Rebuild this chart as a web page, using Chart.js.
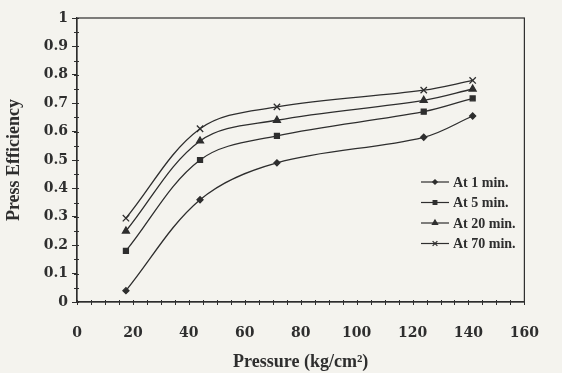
<!DOCTYPE html>
<html>
<head>
<meta charset="utf-8">
<script src="https://cdn.jsdelivr.net/npm/chart.js@4"></script>
<style>
  html, body { margin: 0; padding: 0; background: #f4f3ee; }
  #wrap { width: 562px; height: 373px; position: relative; }
</style>
</head>
<body>
<div id="wrap"><canvas id="pressChart"></canvas></div>
<script>
// pressure (kg/cm2) at each measurement
const pressure = [17.5, 44, 71.5, 124, 141.5];
// press efficiency per residence time
const eff1min = [0.04, 0.36, 0.49, 0.58, 0.655];
const eff5min = [0.18, 0.50, 0.585, 0.67, 0.717];
const eff20min = [0.25, 0.567, 0.64, 0.71, 0.75];
const eff70min = [0.295, 0.61, 0.687, 0.746, 0.78];
const seriesNames = ['At 1 min.', 'At 5 min.', 'At 20 min.', 'At 70 min.'];
const xTicks = [0, 20, 40, 60, 80, 100, 120, 140, 160];
const yTicks = [0, 0.1, 0.2, 0.3, 0.4, 0.5, 0.6, 0.7, 0.8, 0.9, 1];

const ink = '#2e2e2e';
const serif = '"Liberation Serif", "DejaVu Serif", serif';
const tickFont = '"DejaVu Serif", serif';
const markers = ['rectRot', 'rect', 'triangle', 'crossRot'];
const markerSize = [3, 3.5, 4, 4.5];

function pts(ys) {
    return pressure.map(function(x, i) { return { x: x, y: ys[i] }; });
}

const allData = [eff1min, eff5min, eff20min, eff70min];
const datasets = allData.map(function(ys, i) {
    return {
        label: seriesNames[i],
        data: pts(ys),
        borderColor: ink,
        backgroundColor: ink,
        borderWidth: 1.3,
        pointStyle: markers[i],
        pointRadius: markerSize[i],
        pointBorderWidth: 1.3,
        pointBackgroundColor: ink,
        pointBorderColor: ink,
        tension: 0.35,
        fill: false
    };
});

// frame, minor ticks and the in-plot legend
const extras = {
    id: 'extras',
    afterDraw(chart) {
        const c = chart.ctx, a = chart.chartArea;
        const xs = chart.scales.x, ys = chart.scales.y;
        c.save();
        c.strokeStyle = ink;
        c.lineWidth = 1.2;
        c.strokeRect(a.left, a.top, a.right - a.left, a.bottom - a.top);

        // minor ticks
        c.lineWidth = 1;
        c.beginPath();
        for (let v = 0; v <= 160; v += 5) {
            const px = Math.round(xs.getPixelForValue(v)) + 0.5;
            c.moveTo(px, a.bottom - 2);
            c.lineTo(px, a.bottom + 3);
        }
        for (let v = 0; v <= 1.0001; v += 0.05) {
            const py = Math.round(ys.getPixelForValue(v)) + 0.5;
            c.moveTo(a.left - 3, py);
            c.lineTo(a.left + 2, py);
        }
        c.stroke();

        // legend
        const lx = 421, top = 182, gap = 20.5;
        c.font = 'bold 14px ' + serif;
        c.textBaseline = 'middle';
        c.fillStyle = ink;
        chart.data.datasets.forEach(function(ds, i) {
            const y = top + i * gap;
            c.beginPath();
            c.lineWidth = 1.2;
            c.moveTo(lx, y);
            c.lineTo(lx + 28, y);
            c.stroke();
            Chart.helpers.drawPoint(c, {
                pointStyle: ds.pointStyle,
                radius: ds.pointRadius * 0.75,
                borderWidth: 1.1
            }, lx + 14, y);
            c.fillText(ds.label, lx + 32, y + 1);
        });
        c.restore();
    }
};

new Chart(document.getElementById('pressChart'), {
    type: 'line',
    data: { datasets: datasets },
    plugins: [extras],
    options: {
        responsive: true,
        maintainAspectRatio: false,
        animation: false,
        layout: { padding: { top: 18, right: 15, left: 0, bottom: 0 } },
        plugins: {
            legend: { display: false },
            tooltip: { enabled: false }
        },
        scales: {
            x: {
                type: 'linear',
                min: 0,
                max: 160,
                afterBuildTicks: function(scale) {
                    scale.ticks = xTicks.map(function(v) { return { value: v }; });
                },
                afterFit: function(scale) { scale.height = 71; },
                grid: { drawOnChartArea: false, tickLength: 0, color: ink },
                border: { color: ink, width: 1.2 },
                ticks: {
                    color: ink,
                    padding: 23,
                    font: { family: tickFont, size: 14, weight: 'bold' },
                    maxRotation: 0
                },
                title: {
                    display: true,
                    text: 'Pressure (kg/cm\u00b2)',
                    color: ink,
                    font: { family: serif, size: 18, weight: 'bold' },
                    padding: { top: 2, bottom: 0 }
                }
            },
            y: {
                min: 0,
                max: 1,
                afterBuildTicks: function(scale) {
                    scale.ticks = yTicks.map(function(v) { return { value: v }; });
                },
                afterFit: function(scale) { scale.width = 77; },
                grid: { drawOnChartArea: false, tickLength: 5, color: ink },
                border: { color: ink, width: 1.2 },
                ticks: {
                    color: ink,
                    padding: 4,
                    font: { family: tickFont, size: 14, weight: 'bold' },
                    callback: function(v) { return String(Math.round(v * 10) / 10); }
                },
                title: {
                    display: true,
                    text: 'Press Efficiency',
                    color: ink,
                    font: { family: serif, size: 18, weight: 'bold' },
                    padding: { top: 4, bottom: 0 }
                }
            }
        }
    }
});
</script>
</body>
</html>
